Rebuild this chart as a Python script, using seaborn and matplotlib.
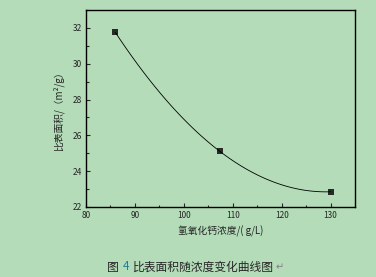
import numpy as np
import pandas as pd
import seaborn as sns
import matplotlib
matplotlib.use("Agg")
import matplotlib.pyplot as plt
from matplotlib.ticker import MultipleLocator

# data
concentration = [86.0, 107.4, 130.0]
surface_area = [31.75, 25.1, 22.85]
x_ticks = [80, 90, 100, 110, 120, 130]
y_ticks = [22, 24, 26, 28, 30, 32]

df = pd.DataFrame({"c": concentration, "s": surface_area})

sns.set_style("ticks")
plt.rcParams['font.family'] = ['Noto Sans CJK SC', 'DejaVu Sans']

bg = "#b4dcb8"
fig = plt.figure(figsize=(3.76, 2.77), dpi=100, facecolor=bg)
ax = fig.add_axes([86/376, 1 - 207/277, (355-86)/376, (207-10)/277])
ax.set_facecolor(bg)

sns.regplot(data=df, x="c", y="s", order=2, ci=None, ax=ax, color="black",
            marker="s", scatter_kws={"s": 16, "linewidths": 0},
            line_kws={"linewidth": 0.6})

ax.set_xlim(80, 135)
ax.set_ylim(22, 33)
ax.set_xticks(x_ticks)
ax.set_yticks(y_ticks)
ax.xaxis.set_minor_locator(MultipleLocator(5))
ax.yaxis.set_minor_locator(MultipleLocator(1))
ax.tick_params(which="major", direction="in", length=3, width=0.8, labelsize=6,
               top=False, right=False, pad=3)
ax.tick_params(which="minor", direction="in", length=1.8, width=0.8,
               top=False, right=False)
for sp in ax.spines.values():
    sp.set_visible(True)
    sp.set_linewidth(1.0)
    sp.set_color("black")

ax.set_xlabel("氢氧化钙浓度/( g/L)", fontsize=7, labelpad=4)
ax.set_ylabel("比表面积/（m²/g）", fontsize=7, labelpad=6)

fig.text(107/376, 1 - 267/277, "图", fontsize=8.5, va="center", ha="left")
fig.text(123/376, 1 - 267/277, "4", fontsize=8.5, va="center", ha="left", color="#1f7fa0")
fig.text(133/376, 1 - 267/277, "比表面积随浓度变化曲线图", fontsize=8.5, va="center", ha="left")
fig.text(276/376, 1 - 267/277, "↵", fontsize=7, va="center", ha="left", color="#808080",
         family=["DejaVu Sans"])

fig.savefig("out.png", dpi=100, facecolor=bg)
